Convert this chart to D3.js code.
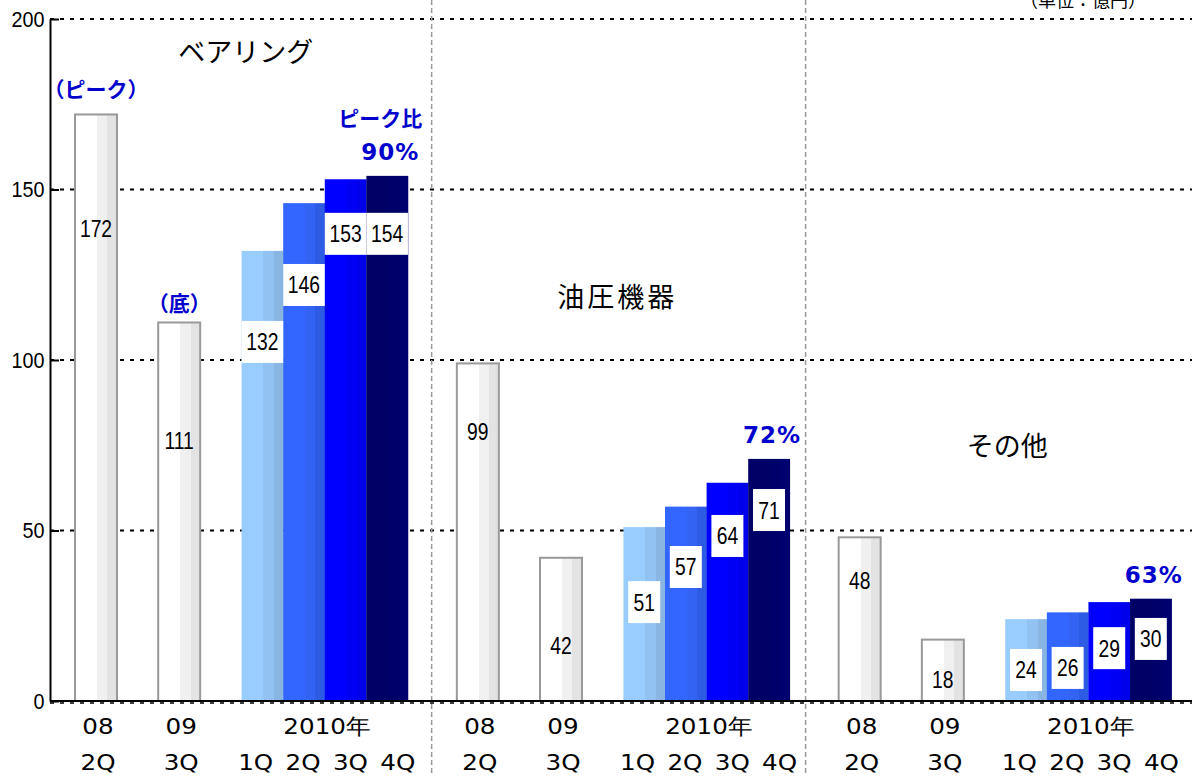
<!DOCTYPE html>
<html><head><meta charset="utf-8">
<script src="https://cdn.jsdelivr.net/npm/d3@7"></script>
<style>
html,body{margin:0;padding:0;background:#fff;}
svg{display:block;}
</style></head>
<body>
<svg id="chart" width="1192" height="776"></svg>
<script>
// ---- data ----
const segments = ["ベアリング", "油圧機器", "その他"];
const periods = ["08 2Q", "09 3Q", "2010 1Q", "2010 2Q", "2010 3Q", "2010 4Q"];
const bearing = [172, 111, 132, 146, 153, 154];
const hydraulic = [99, 42, 51, 57, 64, 71];
const others = [48, 18, 24, 26, 29, 30];
const peakRatio = ["90%", "72%", "63%"];
const yTicks = [0, 50, 100, 150, 200];
const xRow1 = ["08", "09", "2010年"];
const xRow2 = ["2Q", "3Q", "1Q 2Q 3Q 4Q"];
const unitLabel = "（単位：億円）";
const peakNote = "（ピーク）";
const bottomNote = "（底）";
const ratioNote = "ピーク比";

// ---- layout (not data) ----
const slots = [0, 2, 4, 5, 6, 7];         // slot index of each period inside a group
const groupStride = 9.18;                  // slots between groups
const labelAt = [                          // where value labels sit (value units)
  [138.7, 76.5, 105.3, 122, 137, 137],
  [79, 16.2, 29, 39.3, 48.4, 56],
  [35.3, 6.2, 9.1, 9.7, 15.5, 18.2]
];
const titleAt = [[3.6, 190.3], [3.35, 118.5], [3.55, 74.8]]; // [slot, value]
const dividerAt = [8.07, 17.06];           // slot units

const series = [bearing, hydraulic, others];
const W = 1192, H = 776;
const svg = d3.select("#chart");

const x = d3.scaleLinear().domain([-1.106, 26.35]).range([50, 1192]);
const y = d3.scaleLinear().domain([0, 200]).range([701, 19]);
const slotW = x(1) - x(0);

const fills = [
  ["#ffffff", "#f0f0f0", "#e3e3e3"],
  ["#ffffff", "#f0f0f0", "#e3e3e3"],
  ["#99ccff", "#92c2f2", "#88b5e2"],
  ["#3366ff", "#3263f3", "#2e5be4"],
  ["#0000ff", "#0000f4", "#0000ea"],
  ["#000066", "#00006a", "#00006e"]
];
const defs = svg.append("defs");
fills.forEach((c, i) => {
  const g = defs.append("linearGradient").attr("id", "grad" + i)
    .attr("x1", "0").attr("x2", "1").attr("y1", "0").attr("y2", "0");
  [[0, c[0]], [0.52, c[0]], [0.52, c[1]], [0.77, c[1]], [0.77, c[2]], [1, c[2]]]
    .forEach(([o, col]) => g.append("stop").attr("offset", o).attr("stop-color", col));
});

const cx = (gi, pi) => x(gi * groupStride + slots[pi]);

// gridlines
svg.append("g").selectAll("line").data(yTicks.filter(t => t > 0)).join("line")
  .attr("x1", 50).attr("x2", W).attr("y1", d => y(d)).attr("y2", d => y(d))
  .attr("stroke", "#000").attr("stroke-width", 2).attr("stroke-dasharray", "4,6");

// group dividers
svg.append("g").selectAll("line").data(dividerAt).join("line")
  .attr("x1", d => x(d)).attr("x2", d => x(d)).attr("y1", 0).attr("y2", H)
  .attr("stroke", "#9a9a9a").attr("stroke-width", 1.5).attr("stroke-dasharray", "5,3");

// bars
series.forEach((vals, gi) => {
  const g = svg.append("g");
  g.selectAll("rect").data(vals).join("rect")
    .attr("x", (d, i) => i < 2 ? cx(gi, i) - 21 : cx(gi, i) - slotW / 2)
    .attr("width", (d, i) => i < 2 ? 42 : slotW + 0.3)
    .attr("y", d => y(d))
    .attr("height", d => y(0) - y(d))
    .attr("fill", (d, i) => `url(#grad${i})`)
    .attr("stroke", (d, i) => i < 2 ? "#999" : "none")
    .attr("stroke-width", 2);
});

// value labels
series.forEach((vals, gi) => {
  vals.forEach((v, i) => {
    const gg = svg.append("g").attr("transform", `translate(${cx(gi, i)},${y(labelAt[gi][i])})`);
    const s = String(v);
    if (i >= 2) {
      const bw = s.length === 3 ? slotW : 32;
      gg.append("rect").attr("x", -bw / 2).attr("y", -21).attr("width", bw).attr("height", 42)
        .attr("fill", "#fff");
    }
    gg.append("text").text(s)
      .attr("transform", "scale(0.84,1)")
      .attr("text-anchor", "middle").attr("y", 8.5)
      .attr("font-family", "'Liberation Sans', Arial, sans-serif")
      .attr("font-size", 23).attr("fill", "#000");
  });
});

// baseline
svg.append("line").attr("x1", 50).attr("x2", W).attr("y1", y(0)).attr("y2", y(0))
  .attr("stroke", "#000").attr("stroke-width", 2);
svg.append("line").attr("x1", 50).attr("x2", W).attr("y1", y(0) + 2).attr("y2", y(0) + 2)
  .attr("stroke", "#000").attr("stroke-width", 1.5).attr("stroke-dasharray", "4,6");

// y axis
const yAxis = svg.append("g").attr("transform", "translate(50,0)")
  .call(d3.axisLeft(y).tickValues(yTicks).tickSize(-9).tickPadding(6).tickSizeOuter(0));
yAxis.select(".domain").attr("stroke", "#000").attr("stroke-width", 2);
yAxis.selectAll(".tick line").attr("stroke", "#000").attr("stroke-width", 2);
yAxis.selectAll(".tick text")
  .attr("font-family", "'Liberation Sans', Arial, sans-serif")
  .attr("font-size", 22).attr("fill", "#000")
  .attr("transform", "scale(0.9,1)");

// segment titles
segments.forEach((t, gi) => {
  svg.append("text").text(t)
    .attr("x", x(gi * groupStride + titleAt[gi][0])).attr("y", y(titleAt[gi][1]))
    .attr("dy", "0.36em").attr("text-anchor", "middle")
    .attr("font-family", "'Noto Sans CJK JP', sans-serif").attr("font-size", 27)
    .attr("letter-spacing", gi === 1 ? 3 : 0)
    .attr("fill", "#000");
});

// x labels
const blue = "#0000cc";
series.forEach((vals, gi) => {
  const centers = [cx(gi, 0), cx(gi, 1), x(gi * groupStride + (slots[2] + slots[5]) / 2)];
  centers.forEach((c, k) => {
    [[xRow1[k], 734], [xRow2[k], 770]].forEach(([t, yy]) => {
      svg.append("g").attr("transform", `translate(${c + 2},${yy}) scale(1.12,1)`)
        .append("text").text(t)
        .attr("text-anchor", "middle").attr("font-family", "'DejaVu Sans', sans-serif")
        .attr("font-size", 22).attr("word-spacing", 4).attr("fill", "#000");
    });
  });
  // peak ratio
  svg.append("text").text(peakRatio[gi])
    .attr("x", cx(gi, 5) + 3).attr("y", y(vals[5]) - 16)
    .attr("text-anchor", "middle").attr("font-family", "'DejaVu Sans', sans-serif")
    .attr("font-weight", "bold").attr("font-size", 23).attr("letter-spacing", 1).attr("fill", blue);
});

const noteFont = "'Noto Sans CJK JP', sans-serif";
svg.append("text").text(peakNote).attr("x", cx(0, 0)).attr("y", y(bearing[0]) - 25)
  .attr("dy", "0.36em").attr("text-anchor", "middle").attr("font-family", noteFont)
  .attr("font-weight", "bold").attr("font-size", 21).attr("fill", blue);
svg.append("text").text(bottomNote).attr("x", cx(0, 1)).attr("y", y(bearing[1]) - 19)
  .attr("dy", "0.36em").attr("text-anchor", "middle").attr("font-family", noteFont)
  .attr("font-weight", "bold").attr("font-size", 21).attr("fill", blue);
svg.append("text").text(ratioNote).attr("x", cx(0, 5) - 7).attr("y", y(bearing[5]) - 57)
  .attr("dy", "0.36em").attr("text-anchor", "middle").attr("font-family", noteFont)
  .attr("font-weight", "bold").attr("font-size", 21).attr("fill", blue);

// unit label (cut off at the top edge, as in the original)
svg.append("text").text(unitLabel).attr("x", 1020).attr("y", 7)
  .attr("font-family", noteFont).attr("font-size", 18).attr("fill", "#000");
</script>
</body></html>
